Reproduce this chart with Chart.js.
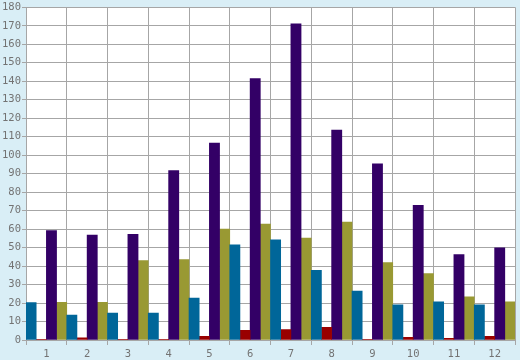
<!DOCTYPE html>
<html>
<head>
<meta charset="utf-8">
<script src="https://cdn.jsdelivr.net/npm/chart.js@4/dist/chart.umd.min.js"></script>
<style>
html,body{margin:0;padding:0;background:#d9eef6;}
#wrap{width:520px;height:360px;position:relative;}
</style>
</head>
<body>
<div id="wrap"><canvas id="c" width="520" height="360"></canvas></div>
<script>
const categories = ['1','2','3','4','5','6','7','8','9','10','11','12'];
const seriesBlue   = [20.3, 13.5, 14.6, 14.6, 22.7, 51.5, 54.2, 37.7, 26.5, 19, 20.6, 19];
const seriesRed    = [0.3, 1.2, 0.3, 0.3, 2, 5.2, 5.7, 6.9, 0.4, 1.4, 0.9, 2];
const seriesPurple = [59.2, 56.7, 57.2, 91.6, 106.6, 141.5, 171, 113.6, 95.3, 72.8, 46.2, 49.9];
const seriesOlive  = [20.4, 20.4, 43, 43.5, 60, 62.7, 55.2, 63.8, 41.9, 36, 23.3, 20.6];
const yMin = 0, yMax = 180, yStep = 10;

const gridColor = '#a6a6a6';
const textColor = '#737373';
const font = {family: 'DejaVu Sans Mono', size: 10.5};

const plotBg = {
  id: 'plotBg',
  beforeDraw(chart) {
    const {ctx, chartArea: a} = chart;
    ctx.save();
    ctx.fillStyle = '#ffffff';
    ctx.fillRect(a.left, a.top, a.right - a.left, a.bottom - a.top);
    ctx.restore();
  }
};

new Chart(document.getElementById('c'), {
  type: 'bar',
  data: {
    labels: categories,
    datasets: [
      {label: 'Series 1', data: seriesBlue, backgroundColor: '#006699'},
      {label: 'Series 2', data: seriesRed, backgroundColor: '#990000'},
      {label: 'Series 3', data: seriesPurple, backgroundColor: '#330066'},
      {label: 'Series 4', data: seriesOlive, backgroundColor: '#999933'}
    ]
  },
  options: {
    responsive: false,
    animation: false,
    devicePixelRatio: 1,
    layout: {padding: {left: 0, right: 5, top: 5, bottom: 0}},
    datasets: {bar: {barPercentage: 1, categoryPercentage: 1, borderWidth: 0}},
    plugins: {legend: {display: false}, tooltip: {enabled: false}},
    scales: {
      x: {
        offset: true,
        grid: {offset: true, color: gridColor, lineWidth: 1, tickLength: 5, drawTicks: true, tickColor: gridColor},
        border: {color: gridColor},
        ticks: {color: textColor, font: font, padding: 3, maxRotation: 0},
        afterFit(s) { s.height = 20; }
      },
      y: {
        min: yMin, max: yMax,
        grid: {color: gridColor, lineWidth: 1, tickLength: 4, tickColor: gridColor},
        border: {color: gridColor},
        ticks: {stepSize: yStep, color: textColor, font: font, padding: 1},
        afterFit(s) { s.width = 26; }
      }
    }
  },
  plugins: [plotBg]
});
</script>
</body>
</html>
